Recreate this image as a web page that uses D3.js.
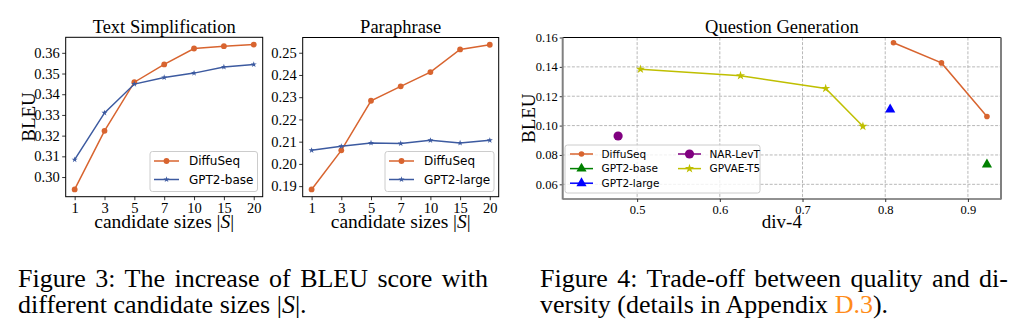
<!DOCTYPE html>
<html>
<head>
<meta charset="utf-8">
<script src="https://cdn.jsdelivr.net/npm/d3@7"></script>
<style>
  body { margin: 0; background: #fff; }
  svg { display: block; }
</style>
</head>
<body>
<div id="chart"></div>
<script>
// ---- data ----
const candSizes = ["1", "3", "5", "7", "10", "15", "20"];

// Text Simplification
const tsDiffuSeq = [0.2940, 0.3223, 0.3458, 0.3544, 0.3621, 0.3632, 0.3640];
const tsGpt2Base = [0.3084, 0.3310, 0.3449, 0.3481, 0.3502, 0.3532, 0.3544];
const tsTicks = [0.30, 0.31, 0.32, 0.33, 0.34, 0.35, 0.36];

// Paraphrase
const ppDiffuSeq = [0.1885, 0.2061, 0.2284, 0.2349, 0.2413, 0.2515, 0.2536];
const ppGpt2Large = [0.2061, 0.2079, 0.2094, 0.2092, 0.2106, 0.2094, 0.2106];
const ppTicks = [0.19, 0.20, 0.21, 0.22, 0.23, 0.24, 0.25];

// Question Generation  [div-4, BLEU]
const qgDiffuSeq = [[0.810, 0.1564], [0.868, 0.1427], [0.923, 0.1062]];
const qgGpt2Base = [[0.923, 0.0735]];
const qgGpt2Large = [[0.806, 0.1110]];
const qgNarLevT = [[0.477, 0.0929]];
const qgGpvaeT5 = [[0.504, 0.1384], [0.625, 0.1340], [0.728, 0.1253], [0.773, 0.0995]];
const qgXDomain = [0.41, 0.94];
const qgYDomain = [0.05, 0.16];
const qgXTicks = [0.5, 0.6, 0.7, 0.8, 0.9];
const qgYTicks = [0.06, 0.08, 0.10, 0.12, 0.14, 0.16];

const ORANGE = "#d8642f";
const BLUE = "#3c5aa0";
const SERIF = "'Liberation Serif', 'Times New Roman', serif";
const SANS = "'DejaVu Sans', sans-serif";

const svg = d3.select("#chart").append("svg")
  .attr("width", 1019)
  .attr("height", 336);

svg.append("rect").attr("width", 1019).attr("height", 336).attr("fill", "#fff");

function marker(sel, kind, size, color) {
  if (kind === "circle") {
    sel.append("circle").attr("r", size).attr("fill", color);
  } else {
    const type = kind === "star" ? d3.symbolStar : d3.symbolTriangle;
    sel.append("path").attr("d", d3.symbol(type, size)()).attr("fill", color);
  }
}

function styleAxis(g, fontSize) {
  g.select(".domain").remove();
  g.selectAll(".tick line").attr("stroke", "#000").attr("stroke-width", 0.8);
  g.selectAll(".tick text")
    .attr("fill", "#000")
    .style("font-family", SERIF)
    .style("font-size", fontSize + "px");
}

// ---- the two line panels ----
function linePanel(p) {
  const g = svg.append("g");

  const all = p.series.flatMap(s => s.values);
  const lo = d3.min(all), hi = d3.max(all), pad = (hi - lo) * 0.05;

  const x = d3.scalePoint().domain(candSizes).range([p.x0, p.x1]).padding(0.3);
  const y = d3.scaleLinear().domain([lo - pad, hi + pad]).range([p.y1, p.y0]);

  const xAxis = g.append("g").attr("transform", `translate(0,${p.y1})`)
    .call(d3.axisBottom(x).tickSizeInner(3.5).tickSizeOuter(0).tickPadding(2.5));
  styleAxis(xAxis, 14.5);

  const yAxis = g.append("g").attr("transform", `translate(${p.x0},0)`)
    .call(d3.axisLeft(y).tickValues(p.ticks).tickFormat(d3.format(".2f"))
      .tickSizeInner(3.5).tickSizeOuter(0).tickPadding(2.5));
  styleAxis(yAxis, 14.5);

  const line = d3.line().x((d, i) => x(candSizes[i])).y(d => y(d));

  p.series.forEach(s => {
    g.append("path")
      .attr("d", line(s.values))
      .attr("fill", "none")
      .attr("stroke", s.color)
      .attr("stroke-width", 1.5);
    s.values.forEach((v, i) => {
      g.append("g").attr("transform", `translate(${x(candSizes[i])},${y(v)})`)
        .call(marker, s.kind, s.size, s.color);
    });
  });

  g.append("rect")
    .attr("x", p.x0).attr("y", p.y0)
    .attr("width", p.x1 - p.x0).attr("height", p.y1 - p.y0)
    .attr("fill", "none").attr("stroke", "#000").attr("stroke-width", 1);

  // legend
  const lg = g.append("g").attr("transform", `translate(${p.legX},${p.legY})`);
  lg.append("rect")
    .attr("width", p.legW).attr("height", 40).attr("rx", 2.5)
    .attr("fill", "#fff").attr("fill-opacity", 0.8)
    .attr("stroke", "#cccccc").attr("stroke-width", 1);
  p.series.forEach((s, i) => {
    const row = lg.append("g").attr("transform", `translate(0,${9.5 + i * 18.5})`);
    row.append("line").attr("x1", 4).attr("x2", 29)
      .attr("stroke", s.color).attr("stroke-width", 1.5);
    row.append("g").attr("transform", "translate(16.5,0)").call(marker, s.kind, s.size, s.color);
    row.append("text").attr("x", 39).attr("dy", "0.36em")
      .style("font-family", SANS).style("font-size", "12px")
      .text(s.name);
  });

  // title and labels
  const cx = (p.x0 + p.x1) / 2;
  g.append("text").attr("x", cx).attr("y", 32.5).attr("text-anchor", "middle")
    .style("font-family", SERIF).style("font-size", "18.5px").text(p.title);

  const xl = g.append("text").attr("x", cx).attr("y", 228).attr("text-anchor", "middle")
    .style("font-family", SERIF).style("font-size", "19.5px");
  xl.append("tspan").text("candidate sizes |");
  xl.append("tspan").style("font-style", "italic").text("S");
  xl.append("tspan").text("|");

  if (p.ylabel) {
    g.append("text")
      .attr("transform", `translate(34.5,${(p.y0 + p.y1) / 2}) rotate(-90)`)
      .attr("text-anchor", "middle")
      .style("font-family", SERIF).style("font-size", "19px")
      .text(p.ylabel);
  }
}

linePanel({
  title: "Text Simplification", ylabel: "BLEU", ticks: tsTicks,
  x0: 65.7, x1: 262.7, y0: 37.3, y1: 196.7,
  legX: 150, legY: 151.5, legW: 107.5,
  series: [
    { name: "DiffuSeq", values: tsDiffuSeq, color: ORANGE, kind: "circle", size: 2.9 },
    { name: "GPT2-base", values: tsGpt2Base, color: BLUE, kind: "star", size: 11.5 }
  ]
});

linePanel({
  title: "Paraphrase", ylabel: null, ticks: ppTicks,
  x0: 302.7, x1: 498.7, y0: 37.5, y1: 196.7,
  legX: 385, legY: 151.5, legW: 109,
  series: [
    { name: "DiffuSeq", values: ppDiffuSeq, color: ORANGE, kind: "circle", size: 2.9 },
    { name: "GPT2-large", values: ppGpt2Large, color: BLUE, kind: "star", size: 11.5 }
  ]
});

// ---- Question Generation scatter ----
(function () {
  const x0 = 562.7, x1 = 1001, y0 = 37.5, y1 = 199;
  const g = svg.append("g");
  const x = d3.scaleLinear().domain(qgXDomain).range([x0, x1]);
  const y = d3.scaleLinear().domain(qgYDomain).range([y1, y0]);

  // grid
  g.append("g").selectAll("line").data(qgXTicks).join("line")
    .attr("x1", d => x(d)).attr("x2", d => x(d)).attr("y1", y0).attr("y2", y1)
    .attr("stroke", "#b0b0b0").attr("stroke-width", 0.9).attr("stroke-dasharray", "3,1.6");
  g.append("g").selectAll("line").data(qgYTicks).join("line")
    .attr("x1", x0).attr("x2", x1).attr("y1", d => y(d)).attr("y2", d => y(d))
    .attr("stroke", "#b0b0b0").attr("stroke-width", 0.9).attr("stroke-dasharray", "3,1.6");

  const xAxis = g.append("g").attr("transform", `translate(0,${y1})`)
    .call(d3.axisBottom(x).tickValues(qgXTicks).tickFormat(d3.format(".1f"))
      .tickSizeInner(3).tickSizeOuter(0).tickPadding(3));
  styleAxis(xAxis, 12.5);
  const yAxis = g.append("g").attr("transform", `translate(${x0},0)`)
    .call(d3.axisLeft(y).tickValues(qgYTicks).tickFormat(d3.format(".2f"))
      .tickSizeInner(3).tickSizeOuter(0).tickPadding(2));
  styleAxis(yAxis, 12.5);

  const line = d3.line().x(d => x(d[0])).y(d => y(d[1]));
  const series = [
    { name: "DiffuSeq", pts: qgDiffuSeq, color: ORANGE, kind: "circle", size: 2.8, line: true },
    { name: "GPT2-base", pts: qgGpt2Base, color: "#008000", kind: "triangle", size: 45 },
    { name: "GPT2-large", pts: qgGpt2Large, color: "#0000ff", kind: "triangle", size: 45 },
    { name: "NAR-LevT", pts: qgNarLevT, color: "#800080", kind: "circle", size: 4.6 },
    { name: "GPVAE-T5", pts: qgGpvaeT5, color: "#bfbf00", kind: "star", size: 26, line: true }
  ];

  series.forEach(s => {
    if (s.line) {
      g.append("path").attr("d", line(s.pts)).attr("fill", "none")
        .attr("stroke", s.color).attr("stroke-width", 1.5);
    }
    s.pts.forEach(d => {
      g.append("g").attr("transform", `translate(${x(d[0])},${y(d[1])})`)
        .call(marker, s.kind, s.size, s.color);
    });
  });

  // spines
  g.append("line").attr("x1", x0).attr("x2", x1).attr("y1", y0).attr("y2", y0)
    .attr("stroke", "#000").attr("stroke-width", 1);
  g.append("line").attr("x1", x0).attr("x2", x1).attr("y1", y1).attr("y2", y1)
    .attr("stroke", "#222").attr("stroke-width", 1);
  g.append("line").attr("x1", x0).attr("x2", x0).attr("y1", y0).attr("y2", y1 + 0.5)
    .attr("stroke", "#808080").attr("stroke-width", 2);
  g.append("line").attr("x1", x1).attr("x2", x1).attr("y1", y0).attr("y2", y1 + 0.5)
    .attr("stroke", "#808080").attr("stroke-width", 2);

  // legend, two columns
  const lg = g.append("g").attr("transform", "translate(565,145)");
  lg.append("rect").attr("width", 195).attr("height", 48).attr("rx", 2.5)
    .attr("fill", "#fff").attr("fill-opacity", 0.8)
    .attr("stroke", "#cccccc").attr("stroke-width", 1);
  series.forEach((s, i) => {
    const col = i < 3 ? 0 : 1, r = i < 3 ? i : i - 3;
    const hx = col === 0 ? 5 : 113;
    const row = lg.append("g").attr("transform", `translate(${hx},${9 + r * 14.6})`);
    row.append("line").attr("x1", 0).attr("x2", 23)
      .attr("stroke", s.color).attr("stroke-width", 1.5);
    row.append("g").attr("transform", "translate(11.5,0)").call(marker, s.kind, s.size, s.color);
    row.append("text").attr("x", 31.5).attr("dy", "0.36em")
      .style("font-family", SANS).style("font-size", "10.5px")
      .text(s.name);
  });

  const cx = (x0 + x1) / 2;
  g.append("text").attr("x", cx).attr("y", 33).attr("text-anchor", "middle")
    .style("font-family", SERIF).style("font-size", "18.5px").text("Question Generation");
  g.append("text").attr("x", cx).attr("y", 228).attr("text-anchor", "middle")
    .style("font-family", SERIF).style("font-size", "19px").text("div-4");
  g.append("text")
    .attr("transform", `translate(535,${(y0 + y1) / 2}) rotate(-90)`)
    .attr("text-anchor", "middle")
    .style("font-family", SERIF).style("font-size", "19px")
    .text("BLEU");
})();

// ---- captions (first line justified via word spacing) ----
function caption(xPos, lines) {
  lines.forEach((ln, i) => {
    const t = svg.append("text").attr("x", xPos).attr("y", 286.5 + i * 26.7)
      .style("font-family", SERIF).style("font-size", "26px").attr("fill", "#000");
    ln.parts.forEach(pt => {
      const sp = t.append("tspan").text(pt.text);
      if (pt.italic) sp.style("font-style", "italic");
      if (pt.color) sp.attr("fill", pt.color);
    });
    if (ln.width) {
      const natural = t.node().getComputedTextLength();
      const spaces = ln.parts.map(pt => pt.text).join("").split(" ").length - 1;
      t.style("word-spacing", ((ln.width - natural) / spaces) + "px");
    }
  });
}

caption(18, [
  { width: 470, parts: [{ text: "Figure 3: The increase of BLEU score with" }] },
  { parts: [{ text: "different candidate sizes |" }, { text: "S", italic: true }, { text: "|." }] }
]);
caption(540, [
  { width: 468, parts: [{ text: "Figure 4: Trade-off between quality and di-" }] },
  { parts: [{ text: "versity (details in Appendix " }, { text: "D.3", color: "#ff8c1a" }, { text: ")." }] }
]);
</script>
</body>
</html>
